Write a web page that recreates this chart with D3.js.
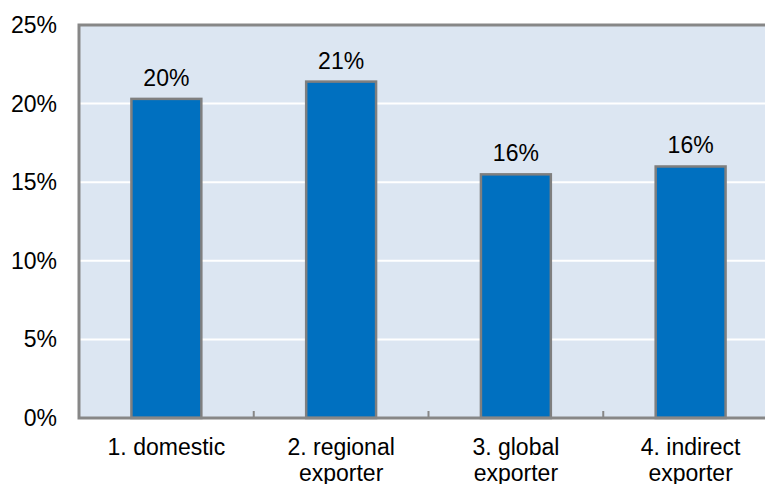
<!DOCTYPE html>
<html>
<head>
<meta charset="utf-8">
<script src="https://cdn.jsdelivr.net/npm/d3@7"></script>
<style>
  html, body { margin: 0; padding: 0; background: #fff; }
  svg { display: block; }
  text { font-family: "Liberation Sans", Arial, sans-serif; fill: #000; }
</style>
</head>
<body>
<svg id="chart" width="765" height="484"></svg>
<script>
// Share of firms by export status
const categories = ["1. domestic", "2. regional exporter", "3. global exporter", "4. indirect exporter"];
const categoryLines = [["1. domestic"], ["2. regional", "exporter"], ["3. global", "exporter"], ["4. indirect", "exporter"]];
const values = [0.203, 0.214, 0.155, 0.160];
const yTicks = [0, 0.05, 0.10, 0.15, 0.20, 0.25];

const svg = d3.select("#chart");
const margin = { left: 79, top: 25, right: -13, bottom: 66 };
const W = 765, H = 484;
const x0 = margin.left, x1 = W - margin.right;
const y0 = H - margin.bottom, y1 = margin.top;
const fontSize = 23;

const x = d3.scaleBand().domain(categories).range([x0, x1]).paddingInner(0.6).paddingOuter(0.3);
const xb = d3.scaleBand().domain(categories).range([x0, x1]);
const y = d3.scaleLinear().domain([0, 0.25]).range([y0, y1]);
const pct = d3.format(".0%");

// plot background
svg.append("rect")
  .attr("x", x0).attr("y", y1)
  .attr("width", x1 - x0).attr("height", y0 - y1)
  .attr("fill", "#dce6f2");

// horizontal gridlines
svg.append("g")
  .selectAll("line")
  .data(yTicks.filter(t => t > 0 && t < 0.25))
  .join("line")
  .attr("x1", x0).attr("x2", x1)
  .attr("y1", d => y(d)).attr("y2", d => y(d))
  .attr("stroke", "#ffffff").attr("stroke-width", 2);

// bars
svg.append("g")
  .selectAll("rect")
  .data(values)
  .join("rect")
  .attr("x", (d, i) => x(categories[i]))
  .attr("y", d => y(d))
  .attr("width", x.bandwidth())
  .attr("height", d => y(0) - y(d))
  .attr("fill", "#0070c0")
  .attr("stroke", "#7f7f7f")
  .attr("stroke-width", 2.5);

// value labels
svg.append("g")
  .selectAll("text")
  .data(values)
  .join("text")
  .attr("x", (d, i) => x(categories[i]) + x.bandwidth() / 2)
  .attr("y", d => y(d) - 13)
  .attr("text-anchor", "middle")
  .attr("font-size", fontSize)
  .text(d => pct(d));

// frame: top, left and bottom edges
const frame = svg.append("g").attr("stroke", "#878787").attr("stroke-width", 3).attr("fill", "none");
frame.append("path").attr("d", `M${x1},${y1}H${x0}V${y0}H${x1}`);

// category boundary ticks on the baseline
svg.append("g")
  .selectAll("line")
  .data(categories.slice(1))
  .join("line")
  .attr("x1", d => xb(d)).attr("x2", d => xb(d))
  .attr("y1", y0).attr("y2", y0 - 7)
  .attr("stroke", "#878787").attr("stroke-width", 2);

// y axis labels
svg.append("g")
  .selectAll("text")
  .data(yTicks)
  .join("text")
  .attr("x", 57)
  .attr("y", d => y(d) + 8)
  .attr("text-anchor", "end")
  .attr("font-size", fontSize)
  .text(d => pct(d));

// category labels
const cat = svg.append("g")
  .selectAll("text")
  .data(categories)
  .join("text")
  .attr("x", d => xb(d) + xb.bandwidth() / 2)
  .attr("y", 455)
  .attr("text-anchor", "middle")
  .attr("font-size", fontSize);
cat.selectAll("tspan")
  .data((d, i) => categoryLines[i])
  .join("tspan")
  .attr("x", function () { return this.parentNode.getAttribute("x"); })
  .attr("dy", (d, i) => i === 0 ? 0 : 26)
  .text(d => d);
</script>
</body>
</html>
